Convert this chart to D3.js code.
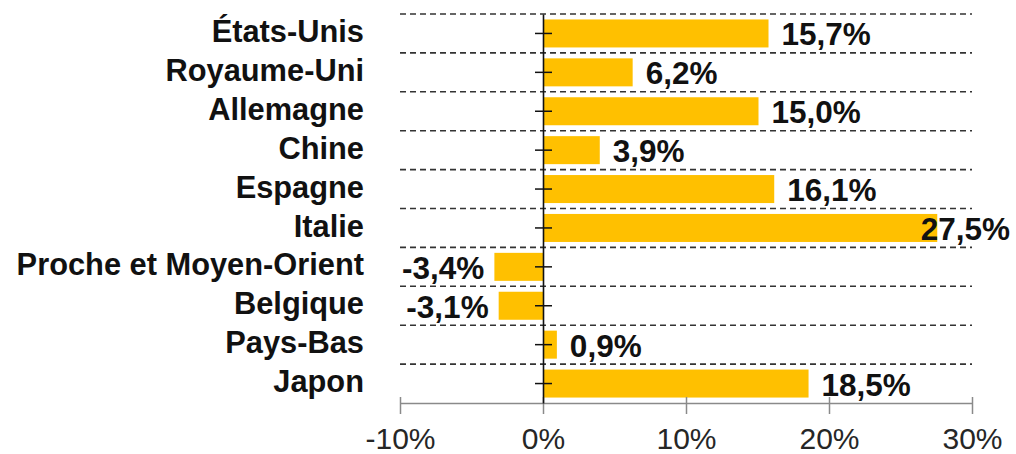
<!DOCTYPE html>
<html>
<head>
<meta charset="utf-8">
<script src="https://cdn.jsdelivr.net/npm/d3@7"></script>
<style>
  html, body { margin: 0; padding: 0; background: #fff; }
  svg { display: block; }
  text { font-family: "Liberation Sans", Arial, sans-serif; }
</style>
</head>
<body>
<svg id="chart" width="1016" height="454"></svg>
<script>
const categories = ["États-Unis", "Royaume-Uni", "Allemagne", "Chine", "Espagne", "Italie", "Proche et Moyen-Orient", "Belgique", "Pays-Bas", "Japon"];
const values = [15.7, 6.2, 15.0, 3.9, 16.1, 27.5, -3.4, -3.1, 0.9, 18.5];
const xTicks = [-10, 0, 10, 20, 30];

const W = 1016, H = 454;
const plot = { left: 400, right: 972, top: 14, bottom: 403 };
const svg = d3.select("#chart");

const x = d3.scaleLinear().domain([-10, 30]).range([plot.left, plot.right]);
const y = d3.scaleBand().domain(categories).range([plot.top, plot.bottom]).paddingInner(0.28).paddingOuter(0.14);
const step = y.step();

const fmt = v => v.toFixed(1).replace(".", ",") + "%";

// dashed horizontal gridlines at band boundaries (except bottom which is axis)
const bounds = categories.map((c, i) => plot.top + i * step);
svg.append("g").selectAll("line").data(bounds).join("line")
  .attr("x1", plot.left).attr("x2", plot.right)
  .attr("y1", d => d).attr("y2", d => d)
  .attr("stroke", "#333").attr("stroke-width", 1.6)
  .attr("stroke-dasharray", "6,4");

// bars
svg.append("g").selectAll("rect").data(values).join("rect")
  .attr("x", d => Math.min(x(0), x(d)) + (d >= 0 ? 1 : 0))
  .attr("y", (d, i) => y(categories[i]))
  .attr("width", d => Math.abs(x(d) - x(0)))
  .attr("height", y.bandwidth())
  .attr("fill", "#FFC000");

// bottom axis
const xAxis = d3.axisBottom(x).tickValues(xTicks).tickFormat(d => d + "%").tickSize(11).tickSizeOuter(0).tickPadding(14);
const gx = svg.append("g").attr("transform", `translate(0,${plot.bottom})`).call(xAxis);
gx.select(".domain").attr("stroke", "#8a8a8a").attr("stroke-width", 1.5);
gx.selectAll(".tick line").attr("stroke", "#8a8a8a").attr("stroke-width", 1.5).attr("y1", -6);
gx.selectAll(".tick text").attr("font-size", 30).attr("fill", "#262626")
  .attr("font-family", "Liberation Sans, Arial, sans-serif");

// zero axis (category axis)
const yAxis = d3.axisLeft(y).tickSize(8).tickSizeOuter(0).tickFormat("");
const gy = svg.append("g").attr("transform", `translate(${x(0)},0)`).call(yAxis);
gy.select(".domain").attr("stroke", "#111").attr("stroke-width", 1.6);
gy.selectAll(".tick line").attr("stroke", "#111").attr("stroke-width", 1.5).attr("x2", 9).attr("x1", -8);

// category labels
svg.append("g").selectAll("text").data(categories).join("text")
  .attr("x", 364)
  .attr("y", d => y(d) + y.bandwidth() / 2)
  .attr("dy", "0.28em")
  .attr("text-anchor", "end")
  .attr("font-size", 30.8).attr("font-weight", "bold").attr("fill", "#111")
  .text(d => d);

// value labels
const vl = svg.append("g").selectAll("text").data(values).join("text")
  .attr("y", (d, i) => y(categories[i]) + y.bandwidth() / 2)
  .attr("dy", "0.38em")
  .attr("font-size", 31.5).attr("font-weight", "bold").attr("fill", "#111")
  .text(d => fmt(d));
vl.each(function(d) {
  const t = d3.select(this);
  const w = this.getComputedTextLength();
  if (d < 0) {
    t.attr("text-anchor", "end").attr("x", x(d) - 10);
  } else {
    let xs = x(d) + 14;
    if (xs + w > W - 6) { t.attr("text-anchor", "end").attr("x", W - 6); }
    else { t.attr("text-anchor", "start").attr("x", xs); }
  }
});
</script>
</body>
</html>
